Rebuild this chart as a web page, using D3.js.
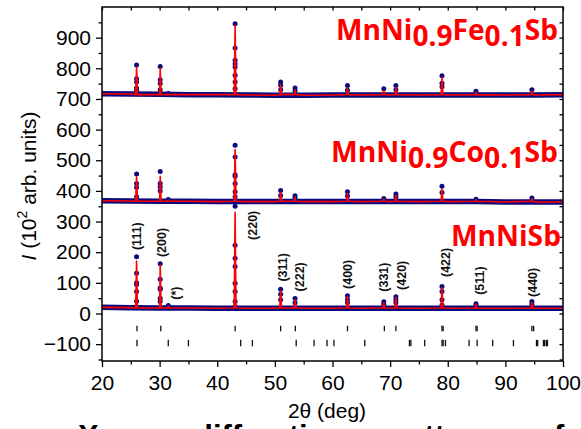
<!DOCTYPE html>
<html><head><meta charset="utf-8">
<script src="https://cdn.jsdelivr.net/npm/d3@7"></script>
<style>
html,body{margin:0;padding:0;background:#fff;}
svg{display:block;}
</style></head><body>
<svg id="c" width="581" height="429"></svg>
<script>
// ---------- data ----------
const peakX = [26.0, 30.1, 31.5, 43.1, 51.0, 53.5, 62.6, 68.9, 71.0, 79.0, 84.9, 94.6];
const hklLabels = ["(111)","(200)","(*)","(220)","(311)","(222)","(400)","(331)","(420)","(422)","(511)","(440)"];
const hklAt2theta = [26.0, 30.4, 32.8, 46.2, 51.3, 54.3, 62.6, 68.9, 72.0, 79.6, 85.5, 94.8];
const hklAtI = [207, 184, 45, 240, 104, 72, 80, 71, 77, 119, 61, 54];

const bgX = [20,25,30,35,40,45,50,55,60,65,70,75,80,85,90,95,100];
const bgMnNiSb = [20,19,18,18,17,17,17,17,17,17,17,17,17,17,17,17,17];
const bgCo = [368,367,366,366,365,365,365,365,365,365,365,365,365,365,364,364,364];
const bgFe = [717,716,715,714,714,713,712,712,713,713,713,713,713,713,713,713,714];

const levelMnNiSb = 18, levelCo = 366, levelFe = 714;

// observed dots at each peak (intensity, 10^2 arb. units)
const dotsMnNiSb = [[40,72,95,100,131,185],[39,50,79,83,112,162],[26],[23,39,72,99,153,180,223,350],[45,63,79],[35,49],[35,45,58],[30,38],[35,45,55],[28,45,72,88],[26,32],[30,39]];
const dotsCo = [[381,411,424,455],[400,413,424,463],[372],[381,397,424,448,453,511,549],[385,401],[378,384],[383,397],[375],[380,390],[395,415],[373],[377]];
const dotsFe = [[728,736,755,766,811],[730,750,763,806],[718],[733,755,777,804,815,826,866,945],[730,745,755],[726,736],[728,744],[733],[730,744],[740,751,776],[725],[730]];

// calculated peak tops
const calcMnNiSb = [170,158,24,330,73,45,55,35,52,85,30,36];
const calcCo = [445,448,370,535,395,380,392,373,386,405,371,374];
const calcFe = [803,800,717,940,745,730,735,728,737,770,722,726];

// Bragg positions
const braggRow1 = [26.07, 30.2, 43.1, 51.0, 53.55, 62.6, 69.0, 71.0, 79.0, 79.2, 84.9, 85.1, 94.6, 94.9];
const braggRow2 = [26.07, 31.5, 35.0, 44.07, 46.1, 53.7, 56.8, 59.05, 60.25, 65.6, 73.35, 73.6, 76.0, 79.0, 79.2, 79.6, 83.7, 85.1, 87.8, 91.4, 95.4, 95.6, 96.6, 96.8, 97.1, 97.3];
const braggRow1I = [-58, -40];
const braggRow2I = [-107, -86];

const xTicks = [20,30,40,50,60,70,80,90,100];
const xMinor = [25,35,45,55,65,75,85,95];
const yTicks = [-100,0,100,200,300,400,500,600,700,800,900];
const yMinor = [-150,-50,50,150,250,350,450,550,650,750,850,950];

const captionWords = ["X-ray", "diffraction", "pattern", "of"];

// ---------- drawing ----------
const svg = d3.select("#c");
const L = 102, R = 563, T = 7, B = 361;
const x = d3.scaleLinear().domain([20,100]).range([L,R]);
const y = d3.scaleLinear().domain([-155,1000]).range([B,T]);
const NAVY = "#0b0b7e", RED = "#ff0000";
const FONT = "'Liberation Sans', Arial, sans-serif";

const plot = svg.append("g");
const patterns = [
  {bg: bgMnNiSb, dots: dotsMnNiSb, calc: calcMnNiSb, level: levelMnNiSb},
  {bg: bgCo, dots: dotsCo, calc: calcCo, level: levelCo},
  {bg: bgFe, dots: dotsFe, calc: calcFe, level: levelFe}
];
const line = d3.line().x(d => x(d[0])).y(d => y(d[1]));

patterns.forEach(p => {
  const bgPts = bgX.map((v,i) => [v, p.bg[i]]);
  plot.append("path").attr("d", line(bgPts)).attr("fill","none")
    .attr("stroke", NAVY).attr("stroke-width", 5.5).attr("stroke-linejoin","round");
  p.dots.forEach((arr, k) => {
    plot.selectAll(null).data(arr).enter().append("circle")
      .attr("cx", x(peakX[k])).attr("cy", d => y(d)).attr("r", 2.5).attr("fill", NAVY);
  });
});
patterns.forEach(p => {
  const pts = bgX.map((v,i) => [v, p.bg[i]]);
  peakX.forEach((px, k) => {
    pts.push([px - 0.15, p.level], [px, p.calc[k]], [px + 0.15, p.level]);
  });
  pts.sort((a,b) => a[0]-b[0]);
  plot.append("path").attr("d", line(pts)).attr("fill","none")
    .attr("stroke", RED).attr("stroke-width", 1.6).attr("stroke-linejoin","round");
});

// Bragg ticks
[[braggRow1, braggRow1I],[braggRow2, braggRow2I]].forEach(([row, rng]) => {
  plot.selectAll(null).data(row).enter().append("line")
    .attr("x1", d => x(d)).attr("x2", d => x(d))
    .attr("y1", y(rng[0])).attr("y2", y(rng[1]))
    .attr("stroke", "#111").attr("stroke-width", 1.3);
});

// hkl labels
hklLabels.forEach((t, i) => {
  svg.append("text")
    .attr("transform", `translate(${x(hklAt2theta[i])},${y(hklAtI[i])}) rotate(-90)`)
    .attr("dy", "0.35em")
    .attr("font-family", FONT).attr("font-weight", "bold").attr("font-size", 12.5)
    .attr("fill", "#111").text(t);
});

// axes
function styleAxis(g){ g.select(".domain").remove(); g.selectAll("line").attr("stroke","#000").attr("stroke-width",1.3); }
svg.append("g").attr("transform",`translate(${L},0)`)
  .call(d3.axisLeft(y).tickValues(yTicks).tickSize(6).tickPadding(5))
  .call(styleAxis)
  .call(g => g.selectAll("text").attr("font-family",FONT).attr("font-size",21).attr("fill","#000"));
svg.append("g").attr("transform",`translate(${L},0)`)
  .call(d3.axisLeft(y).tickValues(yMinor).tickSize(3.5).tickFormat(""))
  .call(styleAxis);
svg.append("g").attr("transform",`translate(0,${B})`)
  .call(d3.axisBottom(x).tickValues(xTicks).tickSize(6).tickPadding(8))
  .call(styleAxis)
  .call(g => g.selectAll("text").attr("font-family",FONT).attr("font-size",21).attr("fill","#000"));
svg.append("g").attr("transform",`translate(0,${B})`)
  .call(d3.axisBottom(x).tickValues(xMinor).tickSize(3.5).tickFormat(""))
  .call(styleAxis);
svg.append("g").attr("transform",`translate(0,${T})`)
  .call(d3.axisTop(x).tickValues(xTicks.concat(xMinor)).tickSize(-3.5).tickFormat(""))
  .call(styleAxis);
svg.append("g").attr("transform",`translate(${R},0)`)
  .call(d3.axisRight(y).tickValues(yTicks.concat(yMinor)).tickSize(-3.5).tickFormat(""))
  .call(styleAxis);
svg.append("rect").attr("x",L).attr("y",T).attr("width",R-L).attr("height",B-T)
  .attr("fill","none").attr("stroke","#000").attr("stroke-width",1.5);

// axis titles
svg.append("text").attr("x", 327).attr("y", 418).attr("text-anchor","middle")
  .attr("font-family",FONT).attr("font-size",21).attr("fill","#000").text("2θ (deg)");
const yl = svg.append("text").attr("transform","translate(36,186) rotate(-90)")
  .attr("text-anchor","middle").attr("font-family",FONT).attr("font-size",21).attr("fill","#000");
yl.append("tspan").attr("font-style","italic").text("I");
yl.append("tspan").text(" (10");
yl.append("tspan").attr("font-size",14).attr("dy",-9).text("2");
yl.append("tspan").attr("dy",9).text(" arb. units)");

// panel labels
function panelLabel(parts, xr, yb, width){
  const t = svg.append("text").attr("x", xr).attr("y", yb).attr("text-anchor","end")
    .attr("font-family","'Open Sans', sans-serif").attr("font-weight","bold")
    .attr("font-size",28).attr("fill",RED)
    .attr("textLength", width).attr("lengthAdjust","spacingAndGlyphs");
  parts.forEach(([s, sub]) => t.append("tspan").attr("dy", sub).text(s));
}
panelLabel([["MnNi",0],["0.9",6],["Fe",-6],["0.1",6],["Sb",-6]], 558, 39.5, 222);
panelLabel([["MnNi",0],["0.9",6],["Co",-6],["0.1",6],["Sb",-6]], 558, 161.5, 227);
panelLabel([["MnNiSb",0]], 561, 246, 110);

// cut-off caption line (justified text below the figure)
const cap = svg.append("text").attr("y", 447)
  .attr("font-family",FONT).attr("font-weight","bold").attr("font-size",31).attr("fill","#000");
const capX = [78, 194, 388, 535];
captionWords.forEach((w, i) => cap.append("tspan").attr("x", capX[i]).text(w));
</script>
</body></html>
